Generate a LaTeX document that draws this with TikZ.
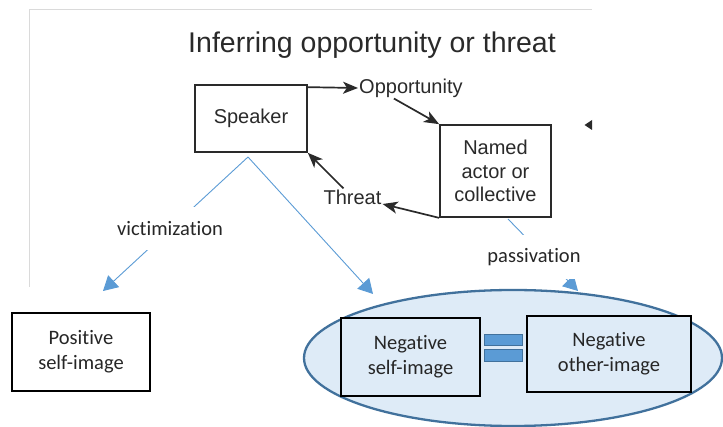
\documentclass[tikz,border=0pt]{standalone}
\usepackage{fontspec}
\setmainfont{Carlito}[Ligatures=NoCommon]
\newfontfamily\arialf{Liberation Sans}
\usetikzlibrary{arrows.meta,shapes.geometric}
\definecolor{scrtext}{HTML}{2A2A2A}
\definecolor{scrframe}{HTML}{DADADA}
\definecolor{lightblue}{HTML}{DEEBF7}
\definecolor{darkblue}{HTML}{41719C}
\definecolor{midblue}{HTML}{5B9BD5}
\begin{document}
\begin{tikzpicture}[x=1pt,y=-1pt,
  oldbox/.style={draw=scrtext, line width=1.7pt, fill=white, inner sep=0pt, align=center,
    font=\arialf\fontsize{20}{23.5}\selectfont, text=scrtext},
  oldtext/.style={font=\arialf\fontsize{20}{23.5}\selectfont, text=scrtext, inner sep=1pt},
  oldarrow/.style={draw=scrtext, line width=1.7pt, -{Stealth[length=15pt,width=12pt,inset=4pt]}},
  newbox/.style={draw=black, line width=2.4pt, inner sep=0pt, align=center,
    font=\fontsize{20.5}{25}\selectfont, text=black!85},
  bluearrow/.style={draw=midblue, line width=0.9pt, -{Triangle[length=14.5pt,width=16pt]}},
  lbl/.style={font=\fontsize{20.5}{24}\selectfont, text=black!85, fill=white, inner sep=0pt},
  eqbar/.style={draw=darkblue, fill=midblue, line width=1pt, inner sep=0pt, minimum width=38pt}
]
\useasboundingbox (0,0) rectangle (723,427);

% screenshot frame
\draw[scrframe, line width=0.8pt] (29,287) -- (29,9) -- (592,9);

% title
\node[font=\arialf\fontsize{28.5}{30}\selectfont, text=scrtext, anchor=base, inner sep=0pt] (title) at (372,52.5) {Inferring opportunity or threat};

% old diagram
\node[oldbox, minimum width=112pt, minimum height=67pt] (spk) at (251,118.5) {Speaker};
\node[oldbox, minimum width=111pt, minimum height=92pt] (nam) at (495.5,171) {Named\\actor or\\collective};
\node[oldtext, anchor=west] (opp) at (358,88) {Opportunity};
\node[oldtext] (thr) at (352.5,197) {Threat};

\draw[oldarrow] ([yshift=-3pt]spk.north east) -- (opp.west);
\draw[oldarrow] ([xshift=-17pt]opp.south) -- (nam.north west);
\draw[oldarrow] (nam.south west) -- ([yshift=-7pt]thr.east);
\draw[oldarrow] ([xshift=-9pt]thr.north) -- (spk.south east);

% cut-off arrowhead at the right edge
\fill[scrtext] (584.5,125) -- (592,120) -- (592,130) -- cycle;

% ellipse group
\node[ellipse, draw=darkblue, fill=lightblue, line width=2.3pt, minimum width=418pt, minimum height=136pt, inner sep=0pt] (grp) at (513,358) {};

% new boxes
\node[newbox, fill=white, minimum width=138pt, minimum height=78pt] (pos) at (81,352) {Positive\\self-image};
\node[newbox, fill=lightblue, minimum width=139pt, minimum height=78pt] (negs) at (410.5,357) {Negative\\self-image};
\node[newbox, fill=lightblue, minimum width=164pt, minimum height=76pt] (nego) at (609,354) {Negative\\other-image};

% equals sign
\node[eqbar, minimum height=11pt] (eqa) at (503,340.5) {};
\node[eqbar, minimum height=12pt] (eqb) at (503,356) {};

% blue connectors
\coordinate (sb) at (248,157);
\coordinate (pt1) at (103,291);
\coordinate (pt2) at (373,294);
\coordinate (pa) at (508,219);
\coordinate (pt3) at (578,291);

\draw[bluearrow] (sb) -- (pt1);
\draw[bluearrow] (sb) -- (pt2);
\draw[bluearrow] (pa) -- (pt3);

\node[lbl, minimum height=43pt, minimum width=110pt] (vic) at (170,229) {victimization};
\node[lbl, minimum height=44pt, minimum width=98pt] (pas) at (534,257) {passivation};
\end{tikzpicture}
\end{document}
